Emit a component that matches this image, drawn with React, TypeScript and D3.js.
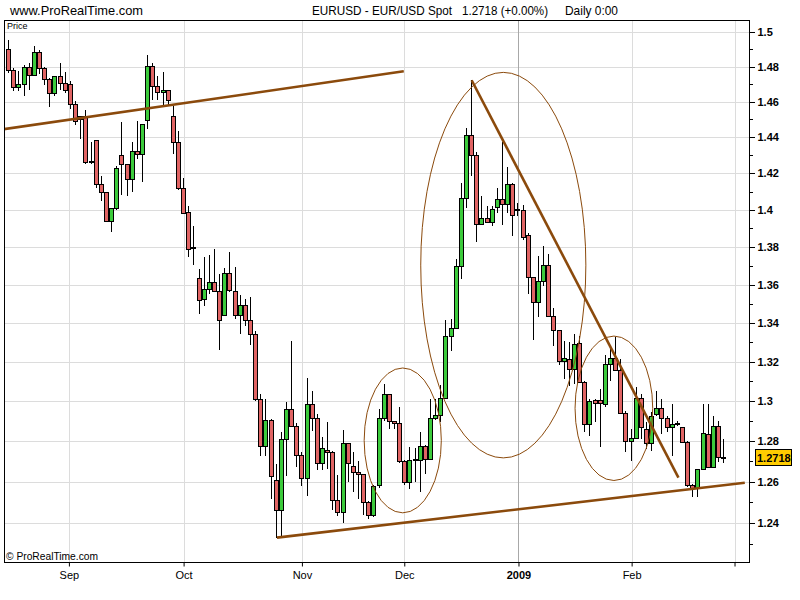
import React, { useRef, useEffect } from "react";
import * as d3 from "d3";

// EUR/USD daily bars (first bar ~ mid Aug 2008)
const opens = [
    1.4901, 1.4779, 1.4684, 1.4701, 1.4798, 1.4750, 1.4887, 1.4793, 1.4730, 1.4650,
    1.4745, 1.4707, 1.4701, 1.4588, 1.4504, 1.4519, 1.4265, 1.4385, 1.4139, 1.4098,
    1.3938, 1.4009, 1.4299, 1.4251, 1.4171, 1.4322, 1.4307, 1.4497, 1.4802, 1.4687,
    1.4657, 1.4665, 1.4521, 1.4375, 1.4121, 1.3988, 1.3800, 1.3635, 1.3525, 1.3577,
    1.3614, 1.3567, 1.3439, 1.3662, 1.3567, 1.3439, 1.3493, 1.3414, 1.3342, 1.3009,
    1.2774, 1.2904, 1.2608, 1.2465, 1.2809, 1.2959, 1.2874, 1.2730, 1.2618, 1.2984,
    1.2914, 1.2693, 1.2758, 1.2748, 1.2511, 1.2454, 1.2789, 1.2677, 1.2647, 1.2639,
    1.2503, 1.2437, 1.2582, 1.2914, 1.3035, 1.2899, 1.2892, 1.2704, 1.2599, 1.2709,
    1.2709, 1.2774, 1.2712, 1.2914, 1.2930, 1.3014, 1.3332, 1.3376, 1.3698, 1.4065,
    1.4415, 1.4301, 1.3925, 1.3956, 1.3935, 1.4018, 1.4061, 1.4033, 1.4143, 1.4002,
    1.4000, 1.3863, 1.3640, 1.3509, 1.3619, 1.3705, 1.3437, 1.3363, 1.3204, 1.3212,
    1.3162, 1.3294, 1.3096, 1.2883, 1.3006, 1.3006, 1.2984, 1.3188, 1.3219, 1.3159,
    1.2940, 1.2802, 1.2814, 1.3014, 1.2860, 1.2790, 1.2933, 1.2964, 1.2915, 1.2868,
    1.2887, 1.2868, 1.2798, 1.2585, 1.2569, 1.2660, 1.2835, 1.2670, 1.2874, 1.2720,
];
const highs = [
    1.4954, 1.4793, 1.4773, 1.4811, 1.4821, 1.4916, 1.4897, 1.4795, 1.4736, 1.4748,
    1.4821, 1.4767, 1.4716, 1.4602, 1.4517, 1.4551, 1.4375, 1.4385, 1.4185, 1.4098,
    1.4009, 1.4242, 1.4485, 1.4251, 1.4375, 1.4489, 1.4472, 1.4869, 1.4821, 1.4745,
    1.4767, 1.4669, 1.4575, 1.4436, 1.4176, 1.4019, 1.3911, 1.3684, 1.3747, 1.3758,
    1.3789, 1.3658, 1.3689, 1.3774, 1.3695, 1.3547, 1.3526, 1.3537, 1.3359, 1.3036,
    1.3010, 1.2910, 1.2688, 1.2845, 1.2995, 1.3304, 1.2890, 1.2745, 1.3116, 1.3050,
    1.2935, 1.2818, 1.2894, 1.2750, 1.2631, 1.2857, 1.2790, 1.2745, 1.2704, 1.2640,
    1.2505, 1.2585, 1.2960, 1.3086, 1.3036, 1.2900, 1.2969, 1.2705, 1.2769, 1.2764,
    1.2847, 1.2780, 1.3010, 1.3010, 1.3079, 1.3414, 1.3421, 1.3737, 1.4148, 1.4451,
    1.4726, 1.4318, 1.4074, 1.4019, 1.4022, 1.4121, 1.4375, 1.4233, 1.4148, 1.4037,
    1.4026, 1.3877, 1.3642, 1.3754, 1.3807, 1.3763, 1.3480, 1.3365, 1.3309, 1.3301,
    1.3344, 1.3334, 1.3100, 1.3010, 1.3010, 1.3059, 1.3232, 1.3283, 1.3327, 1.3215,
    1.2952, 1.2860, 1.3070, 1.3036, 1.2895, 1.2945, 1.3052, 1.3010, 1.2927, 1.2985,
    1.2900, 1.2870, 1.2800, 1.2587, 1.2660, 1.2985, 1.2985, 1.2924, 1.2902, 1.2810,
];
const lows = [
    1.4764, 1.4659, 1.4659, 1.4630, 1.4669, 1.4745, 1.4758, 1.4697, 1.4569, 1.4630,
    1.4669, 1.4650, 1.4557, 1.4470, 1.4389, 1.4251, 1.4251, 1.4121, 1.4046, 1.3933,
    1.3883, 1.4000, 1.4083, 1.4078, 1.4096, 1.4280, 1.4154, 1.4445, 1.4611, 1.4611,
    1.4575, 1.4575, 1.4305, 1.4111, 1.3982, 1.3749, 1.3702, 1.3444, 1.3486, 1.3549,
    1.3562, 1.3262, 1.3439, 1.3562, 1.3421, 1.3344, 1.3386, 1.3287, 1.3002, 1.2728,
    1.2728, 1.2515, 1.2330, 1.2330, 1.2626, 1.2870, 1.2672, 1.2579, 1.2532, 1.2852,
    1.2655, 1.2655, 1.2660, 1.2465, 1.2432, 1.2399, 1.2599, 1.2549, 1.2515, 1.2440,
    1.2420, 1.2430, 1.2569, 1.2900, 1.2860, 1.2860, 1.2693, 1.2585, 1.2565, 1.2601,
    1.2552, 1.2639, 1.2712, 1.2906, 1.2897, 1.3010, 1.3257, 1.3376, 1.3632, 1.4009,
    1.4185, 1.3828, 1.3920, 1.3933, 1.3915, 1.3982, 1.3921, 1.3986, 1.3860, 1.3965,
    1.3838, 1.3553, 1.3314, 1.3429, 1.3593, 1.3434, 1.3282, 1.3181, 1.3112, 1.3078,
    1.3087, 1.3090, 1.2843, 1.2826, 1.2895, 1.2769, 1.2969, 1.3104, 1.3155, 1.2935,
    1.2745, 1.2704, 1.2810, 1.2810, 1.2761, 1.2752, 1.2927, 1.2835, 1.2843, 1.2728,
    1.2875, 1.2790, 1.2572, 1.2525, 1.2524, 1.2660, 1.2665, 1.2665, 1.2696, 1.2691,
];
const closes = [
    1.4779, 1.4684, 1.4701, 1.4798, 1.4750, 1.4887, 1.4793, 1.4730, 1.4650, 1.4745,
    1.4707, 1.4669, 1.4588, 1.4494, 1.4517, 1.4261, 1.4267, 1.4139, 1.4098, 1.3938,
    1.4009, 1.4227, 1.4251, 1.4171, 1.4322, 1.4307, 1.4472, 1.4802, 1.4691, 1.4655,
    1.4669, 1.4611, 1.4375, 1.4121, 1.3986, 1.3788, 1.3802, 1.3519, 1.3577, 1.3614,
    1.3567, 1.3414, 1.3662, 1.3570, 1.3439, 1.3493, 1.3414, 1.3342, 1.3009, 1.2774,
    1.2904, 1.2628, 1.2465, 1.2809, 1.2959, 1.2874, 1.2730, 1.2618, 1.2984, 1.2914,
    1.2693, 1.2764, 1.2748, 1.2511, 1.2454, 1.2789, 1.2693, 1.2647, 1.2639, 1.2503,
    1.2437, 1.2578, 1.2914, 1.3035, 1.2899, 1.2892, 1.2701, 1.2599, 1.2709, 1.2711,
    1.2774, 1.2712, 1.2914, 1.2930, 1.3014, 1.3332, 1.3376, 1.3698, 1.4065, 1.4415,
    1.4301, 1.3925, 1.3956, 1.3937, 1.4004, 1.4061, 1.4033, 1.4143, 1.3970, 1.4004,
    1.3856, 1.3640, 1.3509, 1.3619, 1.3705, 1.3434, 1.3363, 1.3204, 1.3219, 1.3162,
    1.3291, 1.3096, 1.2883, 1.3002, 1.2993, 1.2989, 1.3188, 1.3219, 1.3159, 1.2940,
    1.2802, 1.2814, 1.3014, 1.2870, 1.2790, 1.2927, 1.2964, 1.2915, 1.2868, 1.2885,
    1.2890, 1.2798, 1.2585, 1.2569, 1.2660, 1.2838, 1.2670, 1.2874, 1.2721, 1.2718,
];

// month boundaries, in bar index
const monthTicks = [11.8, 34.1, 57.1, 77, 99.2, 121.2, 141.2];
const monthLabels = ["Sep", "Oct", "Nov", "Dec", "2009", "Feb", ""];

const priceTicks = [1.24, 1.26, 1.28, 1.3, 1.32, 1.34, 1.36, 1.38, 1.4, 1.42, 1.44, 1.46, 1.48, 1.5];
const minorTicks = [1.23, 1.25, 1.27, 1.29, 1.31, 1.33, 1.35, 1.37, 1.39, 1.41, 1.43, 1.45, 1.47, 1.49];
const lastPrice = 1.2718;

// hand drawn annotations: [bar index, price]
const trendLines = [
    [[-1, 1.4445], [76.9, 1.4773]],
    [[52.25, 1.233], [143.2, 1.2595]],
    [[90.1, 1.4722], [130.3, 1.262]],
];
// ellipses: left/right bar index, top/bottom price
const ellipses = [
    [69.2, 84.2, 1.3168, 1.2449],
    [80.2, 112.3, 1.4767, 1.2717],
    [110.2, 125.3, 1.3332, 1.2606],
];

const NARROW = "'Liberation Sans Narrow', 'Liberation Sans', Arial, sans-serif";

const CandleChart = () => {
    const svgRef = useRef<SVGSVGElement>(null);

    useEffect(() => {
        if (!svgRef.current) return;

        const width = 800;
        const height = 600;
        const box = { left: 4, right: 749, top: 20, bottom: 562 };
        const brown = "#8B4A0C";

        d3.select(svgRef.current).selectAll("*").remove();

        const svg = d3
            .select(svgRef.current)
            .attr("width", width)
            .attr("height", height)
            .style("font-family", "'Liberation Sans', Arial, sans-serif");

        const x = d3.scaleLinear().domain([0, closes.length - 1]).range([8.2, 723.2]);
        const y = d3.scaleLog().domain([1.24, 1.5]).range([523, 32]);

        svg.append("rect").attr("width", width).attr("height", height).attr("fill", "#fff");

        svg.append("defs")
            .append("clipPath")
            .attr("id", "plot-clip")
            .append("rect")
            .attr("x", box.left)
            .attr("y", box.top)
            .attr("width", box.right - box.left)
            .attr("height", box.bottom - box.top);

        // grid
        const grid = svg.append("g").attr("shape-rendering", "crispEdges");
        grid.selectAll(".hgrid")
            .data(priceTicks)
            .enter()
            .append("line")
            .attr("x1", box.left)
            .attr("x2", box.right)
            .attr("y1", (d) => Math.round(y(d)) + 0.5)
            .attr("y2", (d) => Math.round(y(d)) + 0.5)
            .attr("stroke", "#dcdcdc");
        grid.selectAll(".vgrid")
            .data(monthTicks)
            .enter()
            .append("line")
            .attr("x1", (d) => Math.round(x(d)) + 0.5)
            .attr("x2", (d) => Math.round(x(d)) + 0.5)
            .attr("y1", box.top)
            .attr("y2", box.bottom)
            .attr("stroke", (_, i) => (monthLabels[i] === "2009" ? "#a8a8a8" : "#dcdcdc"));

        // candles
        const candles = svg.append("g").attr("shape-rendering", "crispEdges");
        const bars = closes.map((c, i) => ({ i, o: opens[i], h: highs[i], l: lows[i], c }));

        candles.selectAll(".wick")
            .data(bars)
            .enter()
            .append("line")
            .attr("x1", (d) => Math.round(x(d.i)) + 0.5)
            .attr("x2", (d) => Math.round(x(d.i)) + 0.5)
            .attr("y1", (d) => y(d.h))
            .attr("y2", (d) => y(d.l))
            .attr("stroke", "#000");

        candles.selectAll(".body")
            .data(bars)
            .enter()
            .append("rect")
            .attr("x", (d) => Math.round(x(d.i)) - 1.5)
            .attr("y", (d) => Math.round(y(Math.max(d.o, d.c))) + 0.5)
            .attr("width", 4)
            .attr("height", (d) => Math.max(0.5, Math.round(y(Math.min(d.o, d.c))) - Math.round(y(Math.max(d.o, d.c)))))
            .attr("fill", (d) => (d.c >= d.o ? "#3CCB3C" : "#E06464"))
            .attr("stroke", "#000")
            .attr("stroke-width", 1);

        // annotations
        const notes = svg.append("g").attr("clip-path", "url(#plot-clip)");
        const line = d3.line<number[]>().x((d) => x(d[0])).y((d) => y(d[1]));
        notes.selectAll(".trend")
            .data(trendLines)
            .enter()
            .append("path")
            .attr("d", (d) => line(d))
            .attr("stroke", brown)
            .attr("stroke-width", 2.6)
            .attr("fill", "none");
        notes.selectAll(".ring")
            .data(ellipses)
            .enter()
            .append("ellipse")
            .attr("cx", (d) => (x(d[0]) + x(d[1])) / 2)
            .attr("cy", (d) => (y(d[2]) + y(d[3])) / 2)
            .attr("rx", (d) => (x(d[1]) - x(d[0])) / 2)
            .attr("ry", (d) => (y(d[3]) - y(d[2])) / 2)
            .attr("stroke", brown)
            .attr("stroke-width", 1)
            .attr("fill", "none");

        // frame
        svg.append("rect")
            .attr("x", box.left + 0.5)
            .attr("y", box.top + 0.5)
            .attr("width", box.right - box.left)
            .attr("height", box.bottom - box.top)
            .attr("fill", "none")
            .attr("stroke", "#000")
            .attr("shape-rendering", "crispEdges");

        // right price axis
        const fmt = (d: any) => String(+(+d).toFixed(2));
        const yAxis = svg.append("g")
            .attr("transform", `translate(${box.right + 0.5},0)`)
            .call(d3.axisRight(y).tickValues(priceTicks).tickFormat(fmt).tickSize(5).tickPadding(3));
        yAxis.select(".domain").remove();
        yAxis.selectAll("text")
            .style("font-size", "11px")
            .style("font-weight", "bold")
            .style("font-family", "'Liberation Sans', Arial, sans-serif")
            .attr("fill", "#000");
        const yMinor = svg.append("g")
            .attr("transform", `translate(${box.right + 0.5},0)`)
            .call(d3.axisRight(y).tickValues(minorTicks).tickFormat(() => "").tickSize(3));
        yMinor.select(".domain").remove();
        svg.selectAll(".tick line").attr("shape-rendering", "crispEdges");

        // last price tag
        const ly = y(lastPrice);
        svg.append("rect")
            .attr("x", 755.5)
            .attr("y", Math.round(ly) - 8.5)
            .attr("width", 36)
            .attr("height", 16)
            .attr("fill", "#FFCC00")
            .attr("stroke", "#000");
        svg.append("text")
            .attr("x", 757)
            .attr("y", ly + 4)
            .style("font-size", "11px")
            .style("font-weight", "bold")
            .text(lastPrice.toFixed(4));

        // bottom time axis
        const xAxis = svg.append("g")
            .attr("transform", `translate(0,${box.bottom + 0.5})`)
            .call(d3.axisBottom(x).tickValues(monthTicks).tickFormat((_, i) => monthLabels[i]).tickSize(4).tickPadding(5));
        xAxis.select(".domain").remove();
        xAxis.selectAll("text")
            .style("font-size", "11px")
            .style("font-family", NARROW)
            .style("font-weight", (_, i) => (monthLabels[i] === "2009" ? "bold" : "normal"))
            .attr("fill", "#000");

        // header and captions
        const header = [
            { x: 10, w: 133, t: "www.ProRealTime.com" },
            { x: 312, w: 140, t: "EURUSD - EUR/USD Spot" },
            { x: 462, w: 86, t: "1.2718 (+0.00%)" },
            { x: 565, w: 53, t: "Daily 0:00" },
        ];
        svg.selectAll(".header")
            .data(header)
            .enter()
            .append("text")
            .attr("x", (d) => d.x)
            .attr("y", 15)
            .attr("textLength", (d) => d.w)
            .attr("lengthAdjust", "spacingAndGlyphs")
            .style("font-size", "13px")
            .style("font-family", NARROW)
            .text((d) => d.t);
        svg.append("text")
            .attr("x", 7)
            .attr("y", 29)
            .style("font-size", "9px")
            .text("Price");
        svg.append("text")
            .attr("x", 6)
            .attr("y", 560)
            .attr("textLength", 92)
            .attr("lengthAdjust", "spacingAndGlyphs")
            .style("font-size", "10px")
            .style("font-family", NARROW)
            .text("© ProRealTime.com");
    }, []);

    return <svg ref={svgRef} style={{ position: "absolute", left: 0, top: 0 }} />;
};

export default function App() {
    return <CandleChart />;
}
